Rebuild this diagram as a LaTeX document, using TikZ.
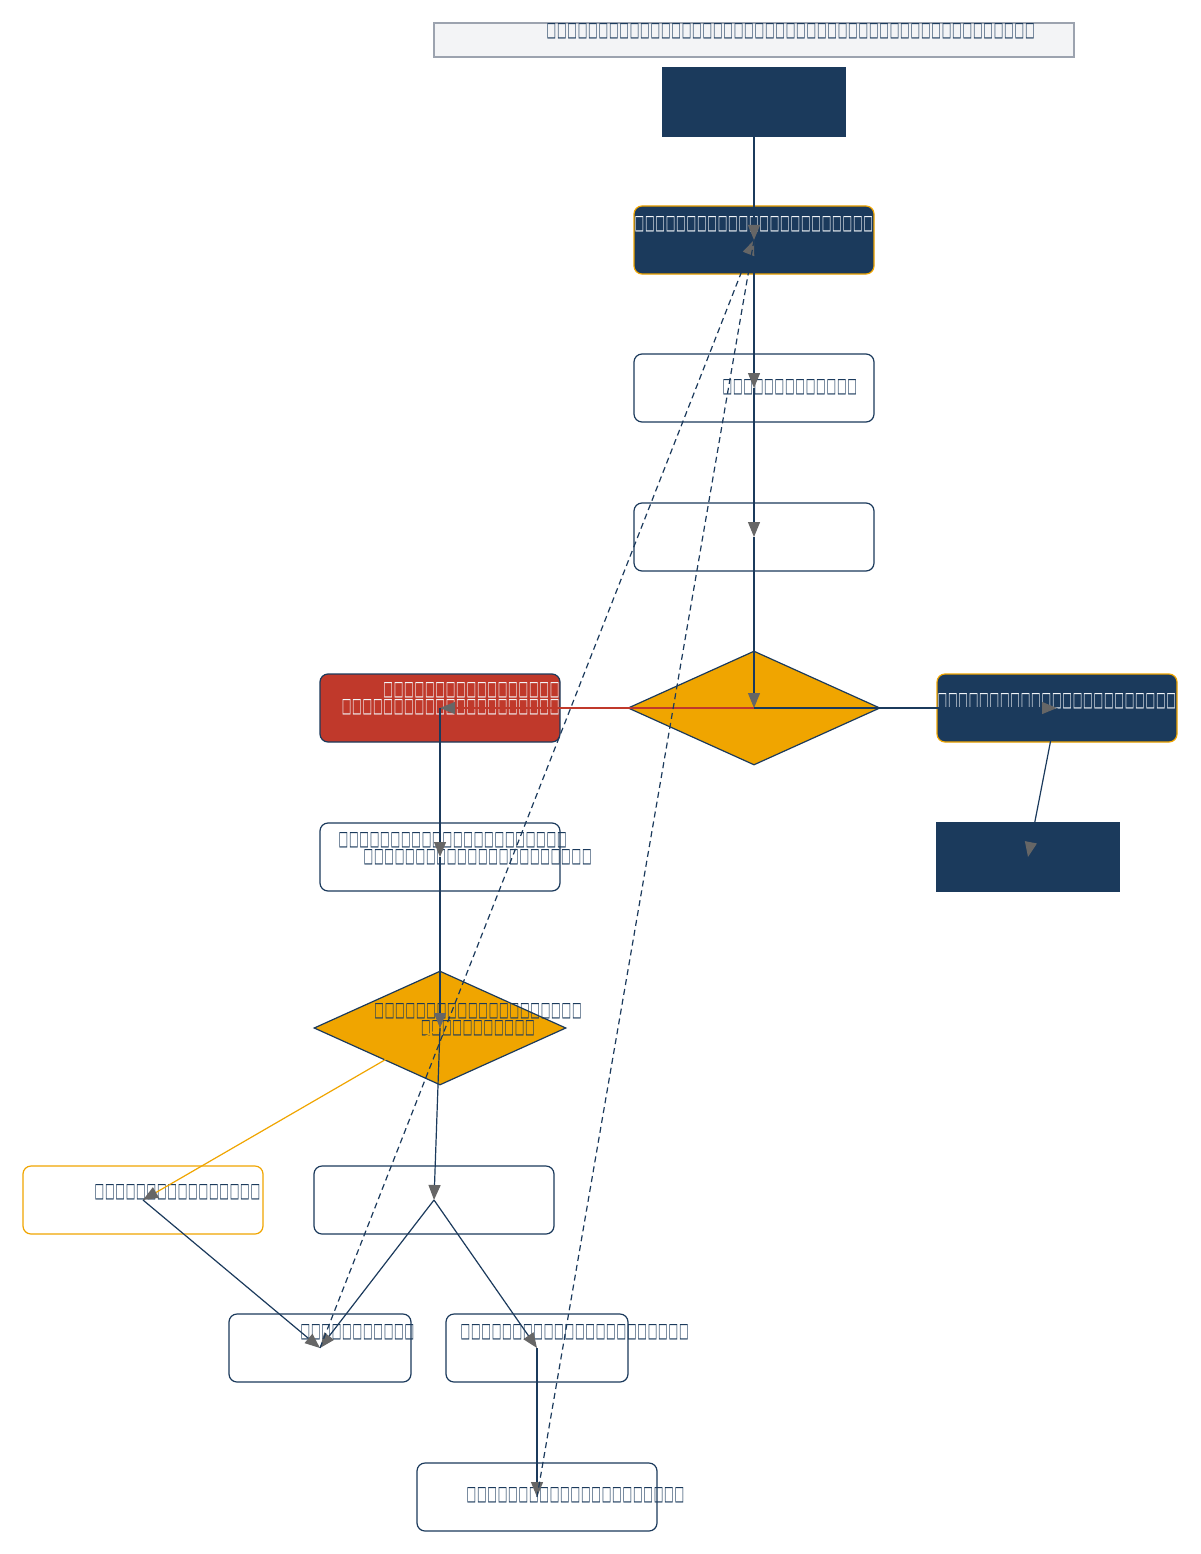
\documentclass[tikz,border=0pt]{standalone}
\usepackage{fontspec}
\usepackage{graphicx}
\usetikzlibrary{arrows.meta,shapes.geometric}
\newfontfamily\tofufont{DejaVu Sans}
\definecolor{navy}{HTML}{1B3A5C}
\definecolor{amber}{HTML}{F0A500}
\definecolor{brick}{HTML}{C0392B}
\definecolor{arrowgray}{HTML}{666666}
\definecolor{titlefill}{HTML}{F3F4F6}
\definecolor{titleline}{HTML}{9CA3AF}
\definecolor{softwhite}{HTML}{F2F5F8}
\newcommand\tfglyph{\makebox[10.4pt]{\raisebox{-6.5pt}{\resizebox{9.6pt}{13pt}{\tofufont\bfseries □}}}}
\newcommand\tofus[1]{\foreach \k in {1,...,#1}{\tfglyph}}
\tikzset{
  whitebox/.style={draw=navy, fill=white, line width=1.2pt, rounded corners=8pt, minimum width=240pt, minimum height=68pt, inner sep=0pt},
  smallbox/.style={whitebox, minimum width=182pt},
  darkbox/.style={draw=amber, fill=navy, line width=1.2pt, rounded corners=8pt, minimum width=240pt, minimum height=68pt, inner sep=0pt},
  redbox/.style={draw=navy, fill=brick, line width=1.2pt, rounded corners=8pt, minimum width=240pt, minimum height=68pt, inner sep=0pt},
  ambox/.style={whitebox, draw=amber},
  termbox/.style={draw=none, fill=navy, minimum width=184pt, minimum height=70pt, inner sep=0pt},
  decision/.style={diamond, draw=navy, fill=amber, line width=1.2pt, minimum width=252pt, minimum height=114pt, inner sep=0pt, aspect=2.2},
  titlebox/.style={draw=titleline, fill=titlefill, line width=1.2pt, minimum width=640pt, minimum height=34pt, inner sep=0pt},
  txt/.style={anchor=west, inner sep=0pt, text=navy, font=\fontsize{10pt}{15pt}\selectfont},
  wtxt/.style={txt, text=softwhite},
  flow/.style={draw=navy, line width=1.2pt, -{Triangle[length=15pt,width=12pt,color=arrowgray]}},
  back/.style={flow, dash pattern=on 6pt off 4pt},
  plain/.style={draw=navy, line width=1.2pt, dash pattern=on 6pt off 4pt},
}
\begin{document}
\begin{tikzpicture}[x=1pt,y=-1pt]
\useasboundingbox[fill=white] (0,0) rectangle (1200,1554);

% nodes
\node[titlebox] (title) at (754,40) {};
\node[termbox] (start) at (754,102.5) {};
\node[darkbox] (a) at (754,240) {};
\node[whitebox] (b) at (754,388) {};
\node[whitebox] (c) at (754,537) {};
\node[decision] (d1) at (754,708) {};
\node[redbox] (r) at (440,708) {};
\node[darkbox] (e) at (1057,708) {};
\node[termbox] (f) at (1028,857) {};
\node[whitebox] (g) at (440,857) {};
\node[decision] (d2) at (440,1028) {};
\node[ambox] (h) at (143,1200) {};
\node[whitebox] (i) at (434,1200) {};
\node[smallbox] (j) at (320,1348) {};
\node[smallbox] (k) at (537,1348) {};
\node[whitebox] (l) at (537,1497) {};

% texts
\node[txt] (titletxt) at (546,31.5) {\tofus{47}};
\node[wtxt] (atxt) at (634,224) {\tofus{23}};
\node[txt] (btxt) at (722,387) {\tofus{13}};
\node[wtxt, anchor=east, align=right] (rtxt) at (560,698.5) {\tofus{17}\\\tofus{21}};
\node[wtxt] (etxt) at (937,701) {\tofus{23}};
\node[txt, align=left] (gtxt) at (338,848.5) {\tofus{22}\\\hspace*{25pt}\tofus{22}};
\node[txt, anchor=center, align=center] (d2txt) at (478,1019.5) {\tofus{20}\\\tofus{11}};
\node[txt] (htxt) at (94,1192) {\tofus{16}};
\node[txt] (jtxt) at (300,1332) {\tofus{11}};
\node[txt] (ktxt) at (460,1332) {\tofus{22}};
\node[txt] (ltxt) at (466,1495) {\tofus{21}};

% connectors
\draw[flow] (start.center) -- (a.center);
\draw[flow] (a.center) -- (b.center);
\draw[flow] (b.center) -- (c.center);
\draw[flow] (c.center) -- (d1.center);
\draw[flow] (d1.center) -- (e.center);
\draw[flow, draw=brick] (d1.center) -- (r.center);
\draw[flow] (e.center) -- (f.center);
\draw[flow] (r.center) -- (g.center);
\draw[flow] (g.center) -- (d2.center);
\draw[flow, draw=amber] (d2.center) -- (h.center);
\draw[flow] (d2.center) -- (i.center);
\draw[flow] (h.center) -- (j.center);
\draw[flow] (i.center) -- (j.center);
\draw[flow] (i.center) -- (k.center);
\draw[flow] (k.center) -- (l.center);
\draw[back] (j.center) -- (a.center);
\draw[plain] (a.center) -- (l.center);
\end{tikzpicture}
\end{document}
